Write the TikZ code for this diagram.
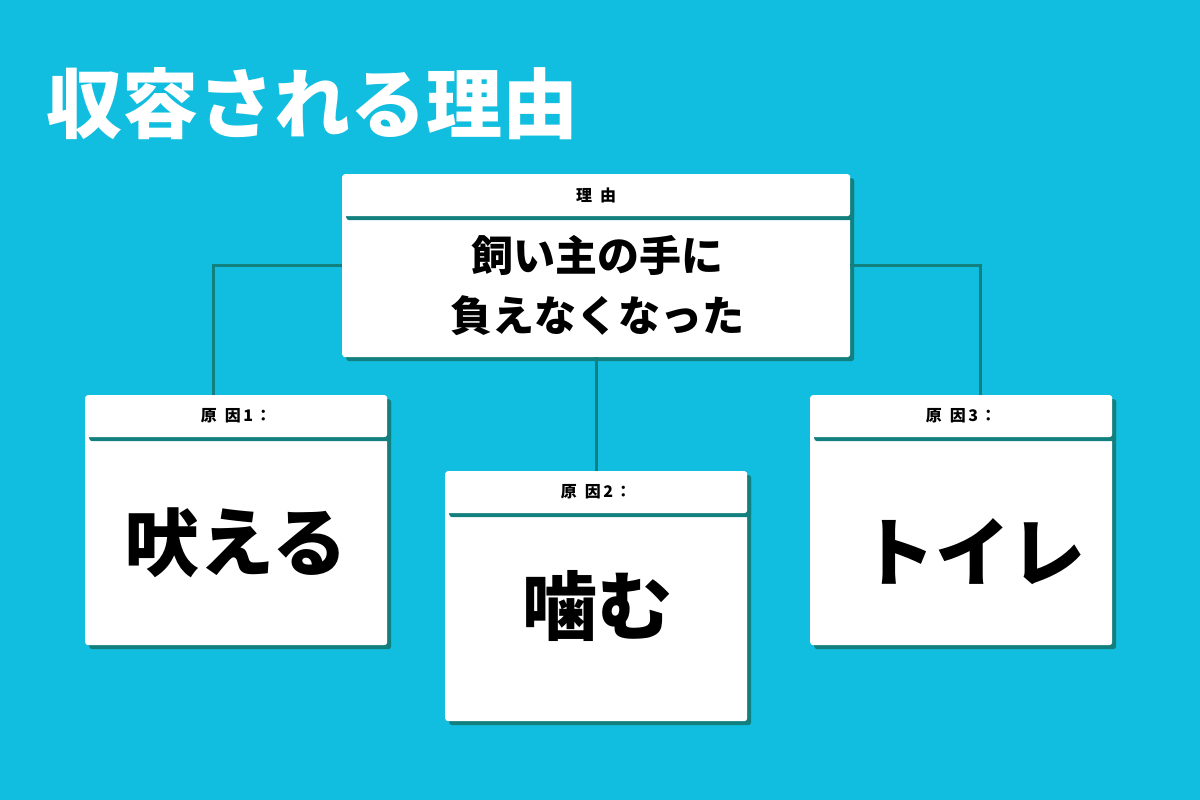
\documentclass[tikz,border=0pt]{standalone}
\usepackage{fontspec}
\newfontfamily\jp{Noto Sans CJK JP}
\usetikzlibrary{shadows}
\definecolor{bgc}{HTML}{12BEDF}
\definecolor{shd}{HTML}{12807F}
\tikzset{
  cardbox/.style={draw=none, fill=white, rounded corners=3pt, inner sep=0pt, anchor=north west,
    drop shadow={shadow xshift=4pt, shadow yshift=-4pt, fill=shd, opacity=1}},
  conn/.style={draw=shd, line width=2.8pt},
  hdtext/.style={font=\jp\bfseries\fontsize{16}{18}\selectfont, text=black},
  bigtext/.style={font=\jp\bfseries\fontsize{75}{80}\selectfont, text=black},
}
\begin{document}
\begin{tikzpicture}[x=1pt,y=-1pt]
\fill[bgc] (0,0) rectangle (1200,800);
\useasboundingbox (0,0) rectangle (1200,800);
\node[font=\jp\bfseries\fontsize{76}{80}\selectfont, text=white, anchor=west, inner sep=0pt] (title) at (46,104) {収容される理由};
% top card
\node[cardbox, minimum width=508pt, minimum height=183pt] (topbody) at (342,174) {};
\node[cardbox, minimum width=508pt, minimum height=42pt] (tophead) at (342,174) {};
\node[hdtext] (toplab) at (tophead.center) {理\hspace{0.5em}由};
\node[font=\jp\bfseries\fontsize{42}{60}\selectfont, align=center, inner sep=0pt] (toptext) at (597,286) {飼い主の手に\\負えなくなった};
% card 1
\node[cardbox, minimum width=302pt, minimum height=250pt] (c1) at (85,395) {};
\node[cardbox, minimum width=302pt, minimum height=42pt] (h1) at (85,395) {};
\node[hdtext] (l1) at (h1.center) {原\hspace{0.5em}因\hspace{0.15em}1\hspace{0.15em}：};
\node[bigtext] (t1) at (236,543) {吠える};
% card 2
\node[cardbox, minimum width=302pt, minimum height=250pt] (c2) at (445,471) {};
\node[cardbox, minimum width=302pt, minimum height=42pt] (h2) at (445,471) {};
\node[hdtext] (l2) at (h2.center) {原\hspace{0.5em}因\hspace{0.15em}2\hspace{0.15em}：};
\node[bigtext] (t2) at (597,606) {噛む};
% card 3
\node[cardbox, minimum width=302pt, minimum height=250pt] (c3) at (810,395) {};
\node[cardbox, minimum width=302pt, minimum height=42pt] (h3) at (810,395) {};
\node[hdtext] (l3) at (h3.center) {原\hspace{0.5em}因\hspace{0.15em}3\hspace{0.15em}：};
\node[bigtext] (t3) at (973,552) {トイレ};
% connectors
\draw[conn] (topbody.west) -| ([xshift=-23pt]h1.north);
\draw[conn] (topbody.east) -| ([xshift=19pt]h3.north);
\draw[conn] (topbody.south) -- (h2.north);
\end{tikzpicture}
\end{document}
